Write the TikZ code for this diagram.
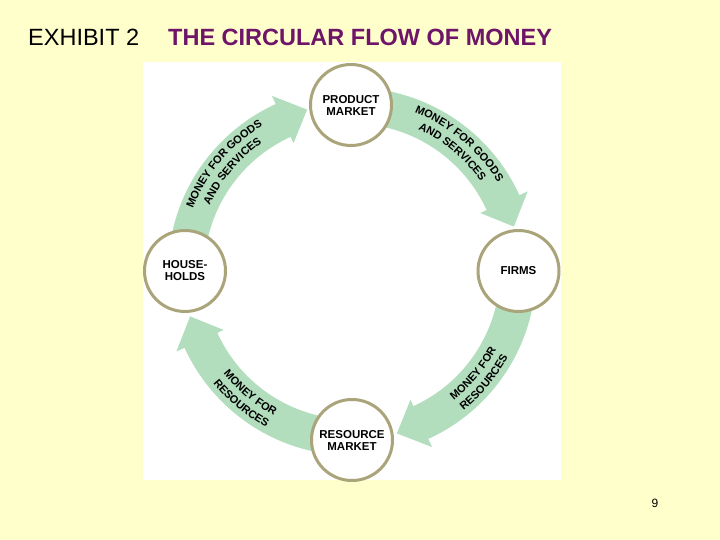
\documentclass[tikz,border=0pt]{standalone}
\usepackage{fontspec}
\setmainfont{Liberation Sans}
\usetikzlibrary{decorations.text}
\definecolor{bg}{RGB}{255,255,204}
\definecolor{band}{RGB}{178,222,190}
\definecolor{ringc}{RGB}{170,164,122}
\definecolor{ttl}{RGB}{110,20,105}
\newcommand{\lblfont}{\fontsize{11.5}{12}\selectfont\bfseries}
\newcommand{\arrfont}{\fontsize{11}{12}\selectfont\bfseries}
\tikzset{
  market/.style={circle, draw=ringc, line width=3pt, fill=white, minimum size=81pt,
    inner sep=0pt, align=center, font=\lblfont},
  flowband/.style={fill=band},
  curved/.style={decorate, decoration={text along path, text align=center, text={#1}}}
}
\begin{document}
\begin{tikzpicture}[x=1pt,y=1pt]
\useasboundingbox (0,0) rectangle (720,540);
\fill[bg] (0,0) rectangle (720,540);
\fill[white] (143,60) rectangle (561,478);
\node[anchor=base west, inner sep=0pt, font=\fontsize{23.5}{28}\selectfont] (ex) at (28,494) {EXHIBIT 2};
\node[anchor=base west, inner sep=0pt, text=ttl, font=\fontsize{23.5}{28}\selectfont\bfseries] (tt) at (168,494) {THE CIRCULAR FLOW OF MONEY};
\node[font=\fontsize{12}{14}\selectfont] (pg) at (655,37) {9};
\coordinate (c) at (352,268.5);
\begin{scope}[shift={(c)}]
  \foreach \r in {0,-90,-180,-270}{
    \begin{scope}[rotate=\r]
      \fill[flowband] (170:184) arc[start angle=170, end angle=114.5, radius=184]
        -- (114.5:193) -- (105.5:168) -- (114.5:141) -- (114.5:148)
        arc[start angle=114.5, end angle=170, radius=148] -- cycle;
    \end{scope}
  }
  % top-left
  \path[curved={|\arrfont|MONEY FOR GOODS}] (165:171) arc[start angle=165, end angle=115, radius=171];
  \path[curved={|\arrfont|AND SERVICES}] (165:157) arc[start angle=165, end angle=115, radius=157];
  % top-right
  \path[curved={|\arrfont|MONEY FOR GOODS}] (75:171) arc[start angle=75, end angle=25, radius=171];
  \path[curved={|\arrfont|AND SERVICES}] (75:157) arc[start angle=75, end angle=25, radius=157];
  % bottom-right
  \path[curved={|\arrfont|MONEY FOR}] (-65:164) arc[start angle=-65, end angle=-15, radius=164];
  \path[curved={|\arrfont|RESOURCES}] (-65:178) arc[start angle=-65, end angle=-15, radius=178];
  % bottom-left
  \path[curved={|\arrfont|MONEY FOR}] (205:164) arc[start angle=205, end angle=255, radius=164];
  \path[curved={|\arrfont|RESOURCES}] (205:178) arc[start angle=205, end angle=255, radius=178];
\end{scope}
\node[market] (pm) at (351,435) {PRODUCT\\MARKET};
\node[market] (fi) at (518.5,269) {FIRMS};
\node[market] (rm) at (352,100) {RESOURCE\\MARKET};
\node[market] (hh) at (185,269) {HOUSE-\\HOLDS};
\end{tikzpicture}
\end{document}
